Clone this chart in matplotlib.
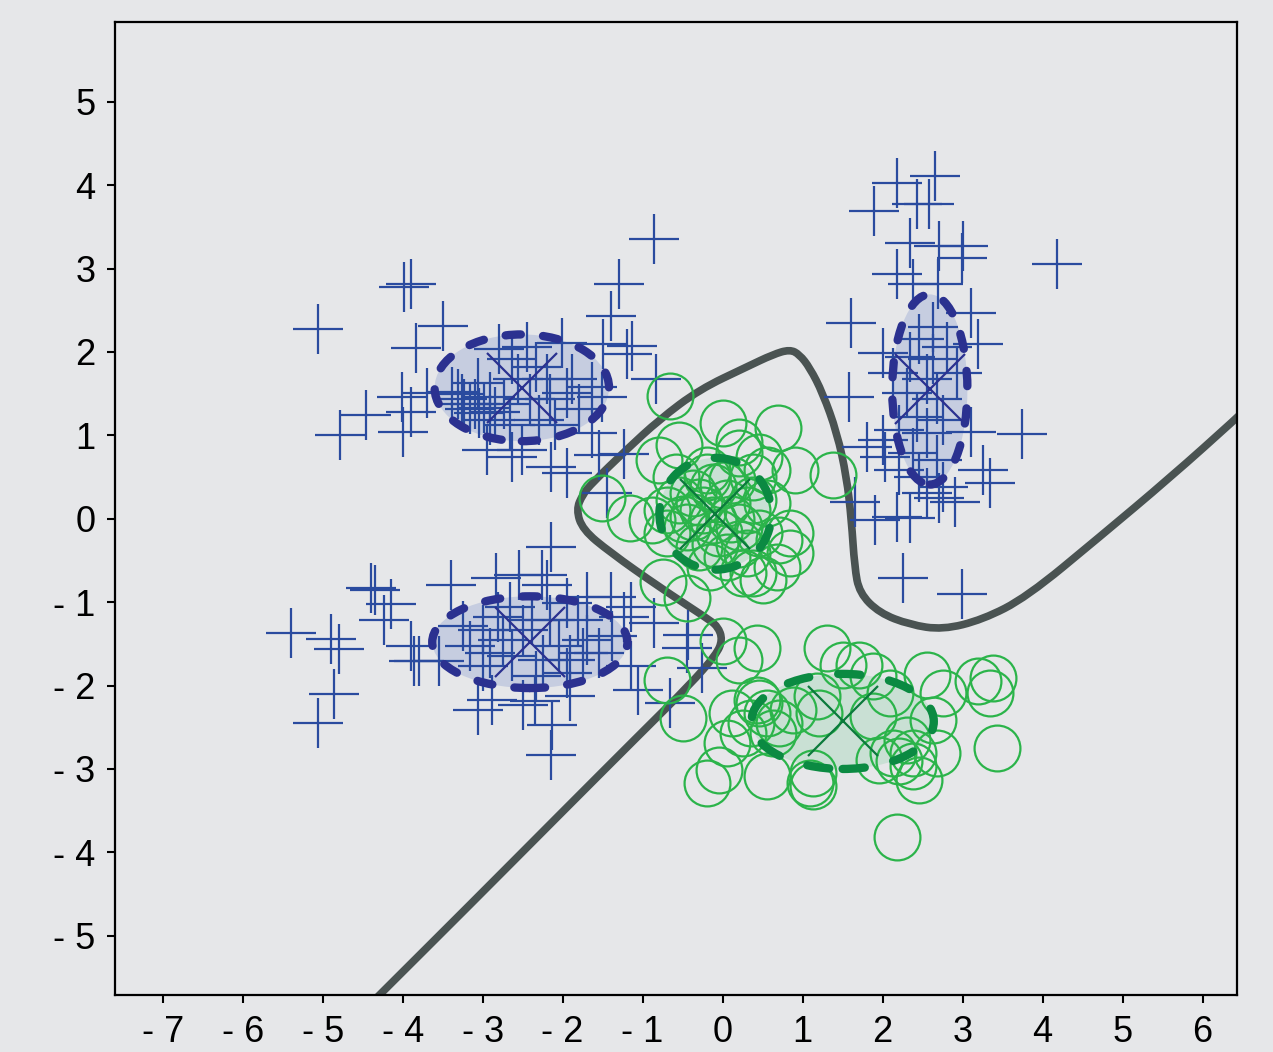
import matplotlib
matplotlib.use("Agg")
import matplotlib.pyplot as plt
from matplotlib.patches import Ellipse, PathPatch
from matplotlib.path import Path
from matplotlib.ticker import FuncFormatter

# ---------------- data ----------------
# class 1 (blue "+")
blue_x = [
    # upper-left cluster
    -5.06, -3.98, -3.90, -3.50, -3.83, -0.86, -1.30, -1.39, -1.13, -0.83,
    -4.78, -4.46, -3.99, -3.90, -3.70, -2.95, -2.63, -2.51, -2.14, -1.95,
    -1.63, -1.54, -1.23, -1.45, -1.50, -1.19, -4.01,
    -3.38, -3.26, -3.06, -3.04, -2.91, -2.79, -2.63, -2.56, -2.44, -2.33,
    -2.20, -2.01, -1.95, -1.88, -1.63, -1.51, -3.23, -3.16, -3.10, -2.98,
    -2.85, -2.73, -3.31, -2.91, -2.66, -2.29, -2.16, -1.79, -2.41, -2.10,
    # lower-left cluster
    -5.39, -4.90, -4.79, -4.86, -5.06, -4.39, -4.34, -4.14, -4.23, -3.89,
    -3.79, -3.86, -3.39, -2.14, -2.55, -2.26, -2.83, -2.19, -1.70, -1.39,
    -1.23, -1.14, -0.86, -0.43, -0.45, -0.26, -1.06, -0.66, -1.14, -3.06,
    -2.88, -2.50, -2.35, -2.13, -1.91, -2.14, -3.54,
    -3.25, -3.16, -3.00, -2.91, -2.81, -2.75, -2.63, -2.50, -2.38, -2.25,
    -2.16, -2.04, -1.91, -1.81, -1.75, -1.70, -1.54, -1.95, -2.33, -1.38,
    -3.00, -2.66, -1.95,
    # right cluster
    2.66, 2.18, 1.89, 2.43, 2.58, 2.34, 2.70, 3.01, 2.99, 2.18,
    2.38, 2.69, 4.18, 1.61, 3.10, 3.19, 1.58, 3.74, 3.25, 3.34,
    1.81, 1.66, 1.90, 2.18, 2.34, 2.26, 2.99, 3.11, 2.03, 2.71,
    2.90, 2.55,
    2.63, 2.46, 2.80, 2.34, 2.63, 2.00, 2.93, 2.55, 2.30, 2.68,
    2.43, 2.75, 2.21, 2.55, 2.00, 2.38, 2.68, 2.21, 2.46, 2.75, 2.13,
]
blue_y = [
    2.28, 2.78, 2.82, 2.31, 2.05, 3.36, 2.82, 2.43, 2.07, 1.67,
    1.01, 1.24, 1.04, 1.28, 1.51, 0.82, 0.74, 0.83, 0.62, 0.55,
    1.03, 0.77, 0.78, 0.31, 2.09, 1.97, 1.46,
    1.52, 1.43, 1.63, 1.27, 1.46, 2.03, 1.91, 1.67, 2.06, 1.82,
    1.67, 2.11, 1.51, 1.67, 1.58, 1.46, 1.37, 1.31, 1.37, 1.33,
    1.28, 1.37, 1.49, 1.19, 1.13, 1.19, 1.43, 1.31, 1.43, 1.13,
    -1.37, -1.44, -1.56, -2.10, -2.45, -0.83, -0.86, -1.02, -1.21, -1.52,
    -1.71, -1.71, -0.79, -0.34, -0.67, -0.67, -0.71, -0.79, -0.94, -0.94,
    -1.18, -1.06, -1.25, -1.39, -1.55, -1.79, -2.05, -2.21, -1.77, -2.29,
    -2.17, -2.23, -2.19, -2.47, -2.13, -2.83, -1.71,
    -1.29, -1.53, -1.33, -1.61, -1.18, -1.45, -1.65, -1.33, -1.21, -1.69,
    -1.21, -1.53, -1.69, -1.21, -1.61, -1.45, -1.61, -1.85, -1.89, -1.41,
    -1.77, -1.06, -1.01,
    4.11, 4.02, 3.69, 3.77, 3.77, 3.31, 3.27, 3.27, 3.13, 2.94,
    2.82, 2.82, 3.05, 2.35, 2.47, 2.09, 1.46, 1.02, 0.59, 0.43,
    0.86, 0.20, -0.01, 0.02, 0.01, -0.71, -0.90, 1.04, 0.74, 0.25,
    0.20, 0.31,
    2.30, 2.15, 2.06, 1.94, 1.91, 1.99, 1.75, 1.67, 1.51, 1.43,
    1.22, 1.19, 1.07, 1.03, 0.95, 0.79, 0.71, 0.59, 0.50, 0.38, 1.75,
]

# class 2 (green "o")
green_x = [
    # central cluster
    -0.66, 0.00, 0.69, -1.51, -1.16, 1.38, 0.90, -0.54, -0.79, 0.21,
    0.46, 0.55, 0.84, 0.84, 0.68, 0.50, 0.25, -0.75, -0.44, -0.70,
    -0.70, -0.88, -0.37, -0.25, -0.12, 0.05, 0.12, 0.21, -0.04, -0.29,
    -0.45, -0.54, 0.38, 0.46, 0.05, 0.30, -0.20, 0.38, -0.58, -0.12,
    -0.37, 0.21, 0.55, 0.71, 0.38, -0.16,
    -0.30, 0.10, -0.10, 0.30, -0.50, 0.00, 0.20, -0.20,
    # lower-right cluster
    0.00, 0.43, 0.21, -0.70, -0.50, 1.30, 1.50, 1.71, 1.88, 2.56,
    2.75, 3.19, 3.38, 3.34, 3.43, 2.18, -0.19, -0.04, 0.56, 1.09,
    1.13, 0.05, 0.12, 0.25, 0.46, 0.63, 0.88, 1.21, 1.18, 1.96,
    2.13, 2.38, 2.46, 2.38, 2.63, 2.68, 1.88, 2.30, 2.09, 0.43,
    1.13, 0.55, 0.35, 0.70, 2.20,
]
green_y = [
    1.47, 1.15, 1.09, 0.25, 0.01, 0.53, 0.59, 0.89, 0.71, 0.92,
    0.74, 0.19, -0.17, -0.41, -0.58, -0.73, -0.65, -0.76, -0.95, 0.11,
    -0.17, -0.01, 0.31, 0.11, 0.38, 0.19, 0.47, -0.10, -0.17, -0.34,
    -0.10, 0.23, 0.23, -0.17, -0.46, -0.41, 0.59, 0.50, 0.50, -0.01,
    0.02, 0.79, 0.59, -0.25, -0.65, -0.58,
    0.20, 0.00, -0.30, 0.10, 0.00, 0.40, -0.30, 0.50,
    -1.47, -1.55, -1.69, -1.93, -2.39, -1.55, -1.75, -1.75, -1.89, -1.87,
    -2.09, -1.95, -1.91, -2.09, -2.75, -3.81, -3.17, -3.01, -3.09, -3.17,
    -3.05, -2.69, -2.33, -2.57, -2.21, -2.57, -2.29, -2.33, -2.13, -2.89,
    -2.81, -2.81, -3.13, -2.97, -2.41, -2.81, -2.37, -2.65, -2.09, -2.17,
    -3.21, -2.33, -2.45, -2.45, -2.90,
]

# fitted cluster means and ellipse semi-axes
blue_cx = [-2.51, -2.41, 2.59]
blue_cy = [1.57, -1.48, 1.55]
blue_ax = [1.09, 1.22, 0.47]
blue_ay = [0.64, 0.55, 1.14]

green_cx = [-0.09, 1.50]
green_cy = [0.06, -2.43]
green_ax = [0.70, 1.14]
green_ay = [0.67, 0.57]

# decision boundary
bound_x = [-4.54, -4.29, -3.16, -2.04, -1.04, -0.41, -0.08, 0.00, -0.06, -0.20,
           -0.79, -1.41, -1.75, -1.83, -1.75, -1.63, -1.20, -0.79, -0.29, 0.30,
           0.63, 0.84, 0.96, 1.09, 1.25, 1.43, 1.55, 1.61, 1.65, 1.71,
           1.96, 2.34, 2.75, 3.25, 3.80, 4.71, 5.59, 6.43, 6.71]
bound_y = [-5.95, -5.71, -4.63, -3.55, -2.59, -1.99, -1.63, -1.45, -1.29, -1.19,
           -0.82, -0.40, -0.13, 0.11, 0.29, 0.43, 0.83, 1.19, 1.55, 1.82,
           1.97, 2.03, 1.97, 1.81, 1.51, 1.03, 0.50, -0.01, -0.58, -0.89,
           -1.13, -1.27, -1.33, -1.21, -0.94, -0.22, 0.49, 1.21, 1.47]

x_ticks = [-7, -6, -5, -4, -3, -2, -1, 0, 1, 2, 3, 4, 5, 6]
y_ticks = [-5, -4, -3, -2, -1, 0, 1, 2, 3, 4, 5]

# ---------------- style ----------------
BG = "#e6e7e9"
BLUE_PT = "#2a4b9f"
BLUE_ELL = "#2b3190"
BLUE_FILL = "#c6cde0"
GREEN_PT = "#2bb44a"
GREEN_ELL = "#0b8a42"
GREEN_X = "#0b7a3c"
GREEN_FILL = "#c9e0d4"
BOUND = "#4a5352"

plt.rcParams["font.family"] = ["Liberation Sans", "DejaVu Sans"]
plt.rcParams["lines.scale_dashes"] = False

fig = plt.figure(figsize=(12.73, 10.52), dpi=100, facecolor=BG)
ax = fig.add_axes([0.0907, 0.0542, 0.9717 - 0.0907, 0.9794 - 0.0542])
ax.set_facecolor(BG)

# ellipse fills
for cx, cy, a, b in zip(blue_cx, blue_cy, blue_ax, blue_ay):
    ax.add_patch(Ellipse((cx, cy), 2 * a, 2 * b, facecolor=BLUE_FILL,
                         edgecolor="none", zorder=1))
for cx, cy, a, b in zip(green_cx, green_cy, green_ax, green_ay):
    ax.add_patch(Ellipse((cx, cy), 2 * a, 2 * b, facecolor=GREEN_FILL,
                         edgecolor="none", zorder=1))

# decision boundary: smooth quadratic path through the read points
pts = list(zip(bound_x, bound_y))
verts = [pts[0]]
codes = [Path.MOVETO]
for i in range(1, len(pts) - 1):
    mid = ((pts[i][0] + pts[i + 1][0]) / 2, (pts[i][1] + pts[i + 1][1]) / 2)
    verts += [pts[i], mid]
    codes += [Path.CURVE3, Path.CURVE3]
verts.append(pts[-1])
codes.append(Path.LINETO)
ax.add_patch(PathPatch(Path(verts, codes), facecolor="none", edgecolor=BOUND,
                       lw=5.5, joinstyle="round", capstyle="butt", zorder=2))

# points
ax.plot(blue_x, blue_y, linestyle="none", marker="+", markersize=36,
        markeredgewidth=1.6, color=BLUE_PT, zorder=3)
ax.plot(green_x, green_y, linestyle="none", marker="o", markersize=33,
        markeredgewidth=1.6, markerfacecolor="none", markeredgecolor=GREEN_PT,
        zorder=3)

# dashed ellipses and centre crosses
for cx, cy, a, b in zip(blue_cx, blue_cy, blue_ax, blue_ay):
    e = Ellipse((cx, cy), 2 * a, 2 * b, facecolor="none", edgecolor=BLUE_ELL,
                lw=6.0, linestyle=(0, (11, 16)), capstyle="round", zorder=4)
    ax.add_patch(e)
ax.plot(blue_cx, blue_cy, linestyle="none", marker="x", markersize=50,
        markeredgewidth=1.6, color=BLUE_ELL, zorder=4)

for cx, cy, a, b in zip(green_cx, green_cy, green_ax, green_ay):
    e = Ellipse((cx, cy), 2 * a, 2 * b, facecolor="none", edgecolor=GREEN_ELL,
                lw=6.0, linestyle=(0, (16, 21)), capstyle="round", zorder=4)
    ax.add_patch(e)
ax.plot(green_cx, green_cy, linestyle="none", marker="x", markersize=50,
        markeredgewidth=1.6, color=GREEN_X, zorder=4)

# axes
ax.set_xlim(-7.59, 6.43)
ax.set_ylim(-5.71, 5.96)
ax.set_xticks(x_ticks)
ax.set_yticks(y_ticks)


def fmt(v, pos):
    v = int(round(v))
    return f"- {abs(v)}" if v < 0 else f"{v}"


ax.xaxis.set_major_formatter(FuncFormatter(fmt))
ax.yaxis.set_major_formatter(FuncFormatter(fmt))
ax.tick_params(axis="both", direction="out", length=5.5, width=1.5,
               labelsize=26, pad=9, colors="black")
for s in ax.spines.values():
    s.set_linewidth(1.6)
    s.set_color("black")

fig.savefig("out.png", dpi=100, facecolor=BG)
